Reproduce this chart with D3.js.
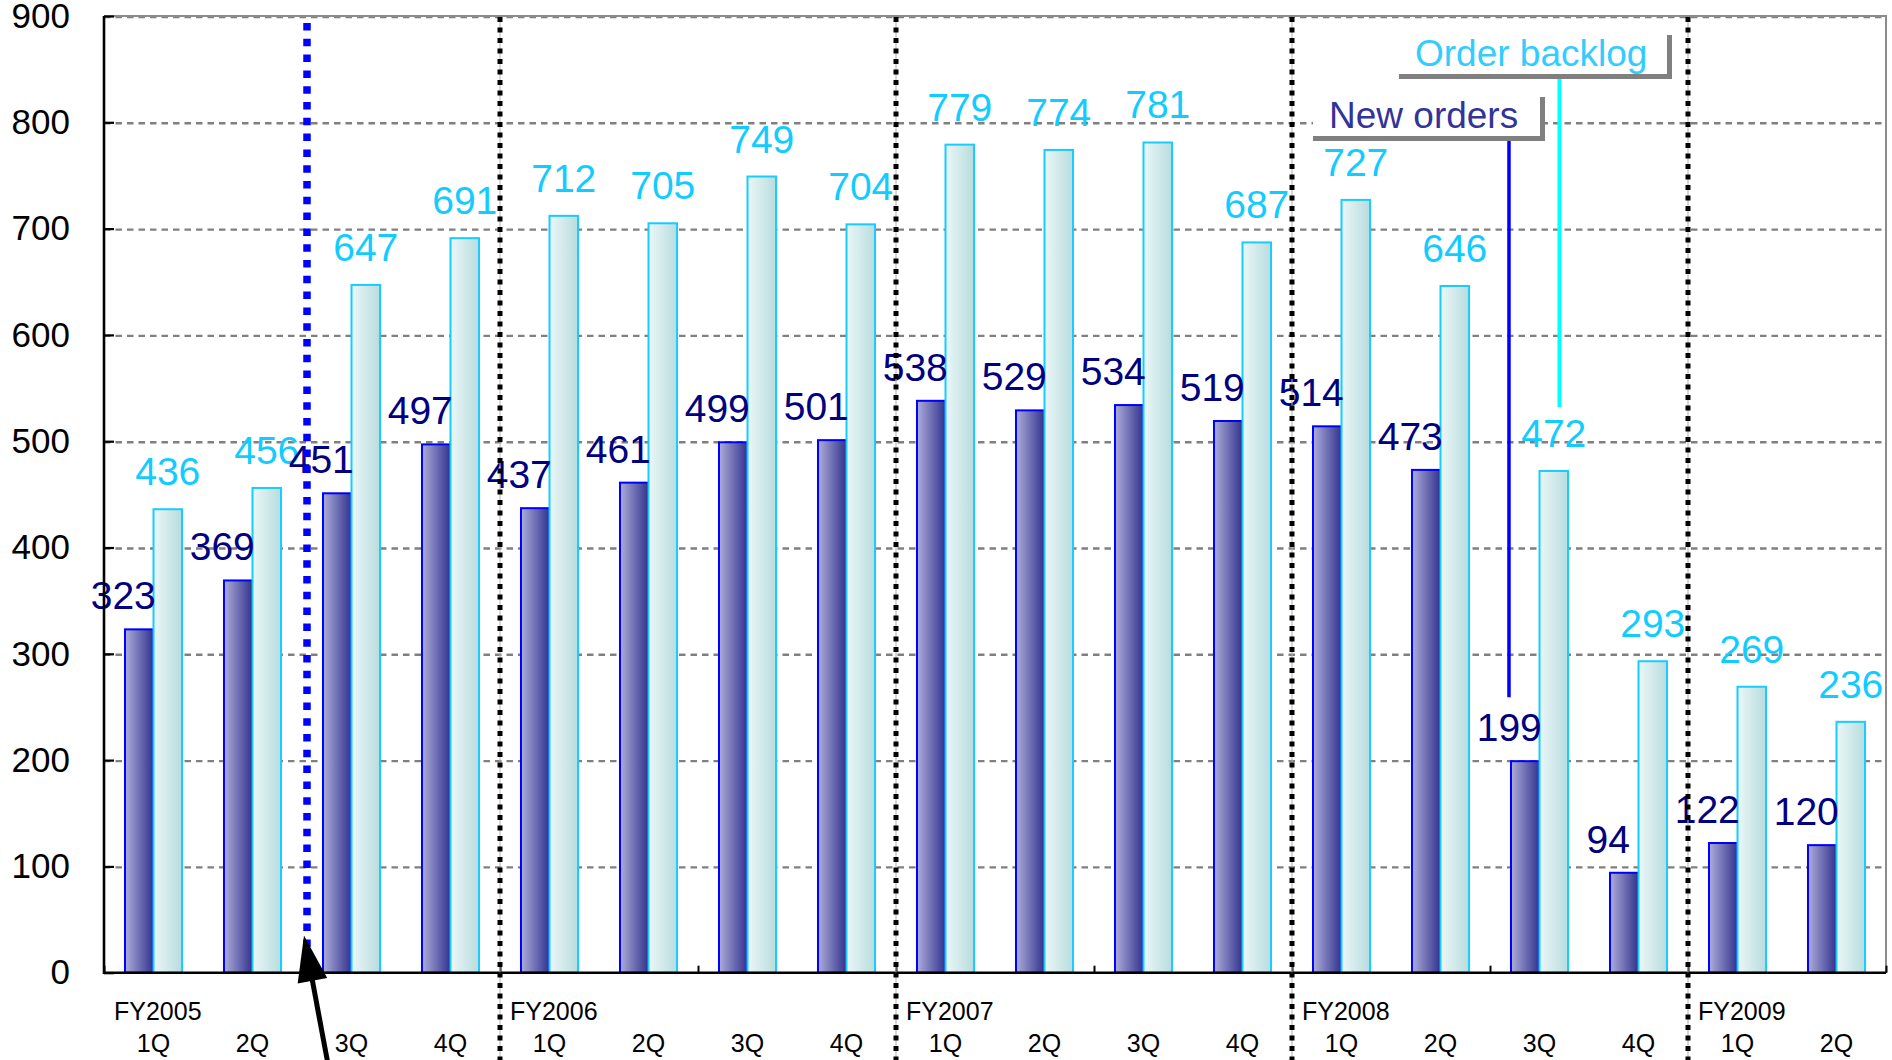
<!DOCTYPE html>
<html>
<head>
<meta charset="utf-8">
<script src="https://cdn.jsdelivr.net/npm/d3@7"></script>
<style>
body { margin: 0; background: #fff; }
svg { display: block; font-family: "Liberation Sans", Arial, sans-serif; }
</style>
</head>
<body>
<svg width="1892" height="1060"></svg>
<script>
// quarterly figures, FY2005 1Q .. FY2009 2Q
var quarters = ["1Q","2Q","3Q","4Q","1Q","2Q","3Q","4Q","1Q","2Q","3Q","4Q","1Q","2Q","3Q","4Q","1Q","2Q"];
var fiscalYears = ["FY2005","FY2006","FY2007","FY2008","FY2009"];
var newOrders = [323,369,451,497,437,461,499,501,538,529,534,519,514,473,199,94,122,120];
var orderBacklog = [436,456,647,691,712,705,749,704,779,774,781,687,727,646,472,293,269,236];
var yTicks = [0,100,200,300,400,500,600,700,800,900];

// plot area edges (note: "top" is reserved on window, so use other names)
var svg = d3.select("svg"),
    plotL = 104, plotR = 1886, plotT = 16, plotB = 972.7;

var x = d3.scaleBand()
    .domain(d3.range(quarters.length))
    .range([plotL, plotR])
    .paddingInner(0.424)
    .paddingOuter(0.212);
var barW = x.bandwidth() / 2;
var edge = d3.scaleLinear().domain([0, quarters.length]).range([plotL, plotR]);

var y = d3.scaleLinear().domain([0, 900]).range([plotB, plotT]);

// gradients for the bars
var defs = svg.append("defs");
var gNew = defs.append("linearGradient").attr("id", "gNew");
gNew.append("stop").attr("offset", "0%").attr("stop-color", "#adadda");
gNew.append("stop").attr("offset", "100%").attr("stop-color", "#32328e");
var gBack = defs.append("linearGradient").attr("id", "gBack");
gBack.append("stop").attr("offset", "0%").attr("stop-color", "#ebf7f7");
gBack.append("stop").attr("offset", "100%").attr("stop-color", "#b8dcde");

// grid
svg.append("g").selectAll("line")
    .data(yTicks.filter(function(d) { return d > 0 }))
    .enter().append("line")
    .attr("x1", plotL).attr("x2", plotR)
    .attr("y1", function(d) { return y(d) + 1 })
    .attr("y2", function(d) { return y(d) + 1 })
    .attr("stroke", "#808080")
    .attr("stroke-width", 2.4)
    .attr("stroke-dasharray", "6.5,5");

// plot border (top + right)
svg.append("path")
    .attr("d", "M" + plotL + "," + plotT + "H" + plotR + "V" + plotB)
    .attr("fill", "none")
    .attr("stroke", "#8c8c8c")
    .attr("stroke-width", 2);

// bars
var groups = svg.append("g").selectAll("g")
    .data(quarters)
    .enter().append("g");

groups.append("rect")
    .attr("x", function(d, i) { return x(i) })
    .attr("y", function(d, i) { return y(newOrders[i]) })
    .attr("width", barW)
    .attr("height", function(d, i) { return y(0) - y(newOrders[i]) })
    .attr("fill", "url(#gNew)")
    .attr("stroke", "#0000ff")
    .attr("stroke-width", 2);

groups.append("rect")
    .attr("x", function(d, i) { return x(i) + barW })
    .attr("y", function(d, i) { return y(orderBacklog[i]) })
    .attr("width", barW)
    .attr("height", function(d, i) { return y(0) - y(orderBacklog[i]) })
    .attr("fill", "url(#gBack)")
    .attr("stroke", "#19ccff")
    .attr("stroke-width", 2);

// value labels
groups.append("text")
    .attr("x", function(d, i) { return x(i) + barW / 2 - 16 })
    .attr("y", function(d, i) { return y(newOrders[i]) - 20 })
    .attr("text-anchor", "middle")
    .attr("font-size", 39)
    .attr("fill", "#000080")
    .text(function(d, i) { return newOrders[i] });

groups.append("text")
    .attr("x", function(d, i) { return x(i) + barW * 1.5 })
    .attr("y", function(d, i) { return y(orderBacklog[i]) - 24 })
    .attr("text-anchor", "middle")
    .attr("font-size", 39)
    .attr("fill", "#13ccff")
    .text(function(d, i) { return orderBacklog[i] });

// y axis, ticks inward
var yAxis = svg.append("g")
    .attr("transform", "translate(" + plotL + ",0)")
    .call(d3.axisLeft(y).tickValues(yTicks).tickSizeInner(-10).tickSizeOuter(0).tickPadding(34));
yAxis.select(".domain").remove();
yAxis.selectAll("line").attr("stroke", "#000").attr("stroke-width", 2.2);
yAxis.selectAll("text").attr("font-size", 35).attr("font-family", "Liberation Sans, Arial, sans-serif").attr("fill", "#000");

// x axis: quarter labels under each band
var xAxis = svg.append("g")
    .attr("transform", "translate(0," + plotB + ")")
    .call(d3.axisBottom(x).tickSize(0).tickPadding(62).tickFormat(function(i) { return quarters[i] }));
xAxis.select(".domain").remove();
xAxis.selectAll("text").attr("font-size", 25).attr("font-family", "Liberation Sans, Arial, sans-serif").attr("fill", "#000");

// small ticks every second quarter
var xTicks = svg.append("g")
    .attr("transform", "translate(0," + plotB + ")")
    .call(d3.axisBottom(edge).tickValues(d3.range(0, quarters.length + 1, 2)).tickSizeInner(-7).tickSizeOuter(0).tickFormat(""));
xTicks.select(".domain").remove();
xTicks.selectAll("line").attr("stroke", "#000").attr("stroke-width", 2);

// fiscal year labels
svg.append("g").selectAll("text")
    .data(fiscalYears)
    .enter().append("text")
    .attr("x", function(d, i) { return edge(i * 4) + 10 })
    .attr("y", 1020)
    .attr("font-size", 25)
    .attr("fill", "#000")
    .text(function(d) { return d });

// axis lines
svg.append("path")
    .attr("d", "M" + plotL + "," + plotT + "V" + plotB + "H" + plotR)
    .attr("fill", "none")
    .attr("stroke", "#000")
    .attr("stroke-width", 2.6);

// legend call-outs
function callout(x0, y0, w, h, label, color) {
    svg.append("rect")
        .attr("x", x0).attr("y", y0).attr("width", w).attr("height", h)
        .attr("fill", "#fff");
    svg.append("path")
        .attr("d", "M" + x0 + "," + (y0 + h + 2.5) + "H" + (x0 + w + 2.5) + "V" + (y0 + 4))
        .attr("fill", "none")
        .attr("stroke", "#808080")
        .attr("stroke-width", 5);
    svg.append("text")
        .attr("x", x0 + 16)
        .attr("y", y0 + 35)
        .attr("font-size", 37)
        .attr("fill", color)
        .text(label);
}

svg.append("line")
    .attr("x1", x(14) + barW * 1.7).attr("x2", x(14) + barW * 1.7)
    .attr("y1", 78).attr("y2", y(orderBacklog[14]) - 64)
    .attr("stroke", "#00ffff").attr("stroke-width", 4);
svg.append("line")
    .attr("x1", x(14) - 2).attr("x2", x(14) - 2)
    .attr("y1", 140).attr("y2", y(newOrders[14]) - 64)
    .attr("stroke", "#0000ff").attr("stroke-width", 3.5);

callout(1313, 93, 227, 43, "New orders", "#333399");
callout(1399, 31, 268, 43, "Order backlog", "#33ccff");

// fiscal year dividers
var dividers = svg.append("g").selectAll("g")
    .data([4, 8, 12, 16])
    .enter().append("g");
dividers.append("line")
    .attr("x1", function(d) { return edge(d) }).attr("x2", function(d) { return edge(d) })
    .attr("y1", plotT + 1).attr("y2", 1060)
    .attr("stroke", "#b0b0b0").attr("stroke-width", 1);
dividers.append("line")
    .attr("x1", function(d) { return edge(d) }).attr("x2", function(d) { return edge(d) })
    .attr("y1", plotT + 1).attr("y2", 1060)
    .attr("stroke", "#000").attr("stroke-width", 5)
    .attr("stroke-dasharray", "5,5.5");

// blue marker line between 2Q and 3Q of FY2005
svg.append("line")
    .attr("x1", edge(2) + 5).attr("x2", edge(2) + 5)
    .attr("y1", 23).attr("y2", 986)
    .attr("stroke", "#0000ff").attr("stroke-width", 7.5)
    .attr("stroke-dasharray", "7.5,8.3");

// arrow pointing at it
var tip = [edge(2) + 2, y(35)], tail = [edge(2) + 28, 1075];
var dx = tail[0] - tip[0], dy = tail[1] - tip[1], len = Math.sqrt(dx * dx + dy * dy);
var ux = dx / len, uy = dy / len, headL = 46, headW = 15;
var base = [tip[0] + ux * headL, tip[1] + uy * headL];
svg.append("line")
    .attr("x1", base[0] - ux * 4).attr("y1", base[1] - uy * 4)
    .attr("x2", tail[0]).attr("y2", tail[1])
    .attr("stroke", "#000").attr("stroke-width", 5);
svg.append("path")
    .attr("d", "M" + tip[0] + "," + tip[1] +
        "L" + (base[0] + uy * headW) + "," + (base[1] - ux * headW) +
        "L" + (base[0] - uy * headW) + "," + (base[1] + ux * headW) + "Z")
    .attr("fill", "#000");
</script>
</body>
</html>
